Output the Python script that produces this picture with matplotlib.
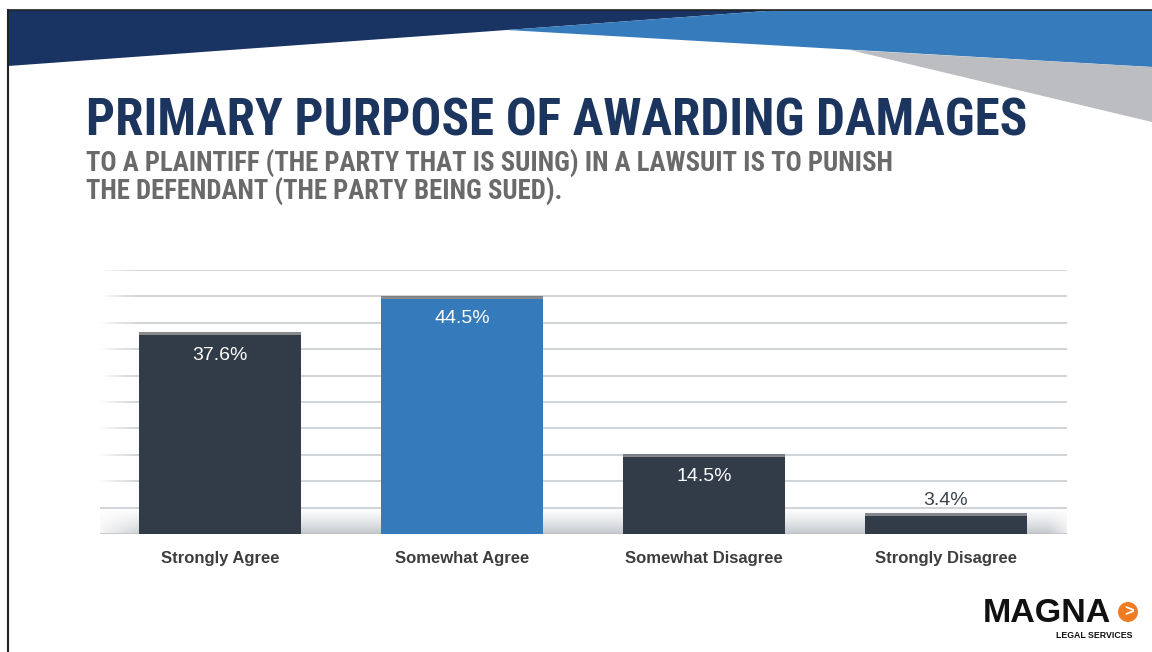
import numpy as np
import matplotlib
matplotlib.use("Agg")
import matplotlib.pyplot as plt
from matplotlib import font_manager
from matplotlib.patches import Polygon, Circle

categories = ["Strongly Agree", "Somewhat Agree", "Somewhat Disagree", "Strongly Disagree"]
values = [37.6, 44.5, 14.5, 3.4]
labels = ["37.6%", "44.5%", "14.5%", "3.4%"]
bar_colors = ["#323c48", "#357abb", "#323c48", "#323c48"]

title = "PRIMARY PURPOSE OF AWARDING DAMAGES"
subtitle = ["TO A PLAINTIFF (THE PARTY THAT IS SUING) IN A LAWSUIT IS TO PUNISH",
            "THE DEFENDANT (THE PARTY BEING SUED)."]

installed = {f.name for f in font_manager.fontManager.ttflist}


def pick(*names):
    for n in names:
        if n in installed:
            return n
    return "DejaVu Sans"


narrow = pick("Liberation Sans Narrow", "DejaVu Sans Condensed", "Roboto Condensed", "Liberation Sans")
sans = pick("Liberation Sans", "Arial", "DejaVu Sans")

W, H = 1152, 652
fig = plt.figure(figsize=(W / 100, H / 100), dpi=100)

# slide background in pixel coordinates
bg = fig.add_axes([0, 0, 1, 1])
bg.set_xlim(0, W)
bg.set_ylim(H, 0)
bg.axis("off")

bg.add_patch(Polygon([(8, 10), (780, 10), (507, 30), (8, 66)], closed=True,
                     facecolor="#193462", edgecolor="none"))
bg.add_patch(Polygon([(780, 10), (W, 10), (W, 67), (507, 30)], closed=True,
                     facecolor="#367cbc", edgecolor="none"))
bg.add_patch(Polygon([(850, 50), (W, 67), (W, 122)], closed=True,
                     facecolor="#bcbdc1", edgecolor="none"))
bg.plot([8, W], [10, 10], color="#222222", lw=1.2)
bg.plot([8, 8], [10, H], color="#222222", lw=1.5)

bg.text(86, 121, title, fontsize=36.8, fontweight="bold", family=narrow,
        color="#1b355f", va="center", ha="left")
bg.text(86, 164, subtitle[0], fontsize=19.3, fontweight="bold", family=narrow,
        color="#6a6a6a", va="center", ha="left")
bg.text(86, 192, subtitle[1], fontsize=19.3, fontweight="bold", family=narrow,
        color="#6a6a6a", va="center", ha="left")

# logo
bg.text(983, 614, "MAGNA", fontsize=24.5, fontweight="bold", family=sans,
        color="#111111", va="center", ha="left")
bg.add_patch(Circle((1128, 612), 10, facecolor="#ef7b22", edgecolor="none"))
bg.text(1129, 612, ">", fontsize=12, fontweight="bold", family=sans,
        color="white", va="center", ha="center")
bg.text(1132, 636, "LEGAL SERVICES", fontsize=6.3, fontweight="bold", family=sans,
        color="#111111", va="center", ha="right")

# chart area
px_left, px_right, px_top, px_bottom = 100, 1067, 270, 534
ax = fig.add_axes([px_left / W, 1 - px_bottom / H,
                   (px_right - px_left) / W, (px_bottom - px_top) / H])
ax.patch.set_alpha(0)
x = np.arange(len(categories))
step = 242.0
ax.set_xlim(-(220 - px_left) / step, 3 + (px_right - 946) / step)
ax.set_ylim(0, 50)
for s in ax.spines.values():
    s.set_visible(False)
ax.tick_params(length=0)
ax.set_yticks([])
ax.set_xticks(x)
ax.set_xticklabels(categories, fontsize=12, fontweight="bold", family=sans,
                   color="#3d3d3d")
ax.tick_params(axis="x", pad=12)

for g in np.arange(5, 51, 5):
    ax.axhline(g, color="#c5c9cd", lw=1.1, zorder=1)
ax.axhline(0, color="#c8cbcf", lw=1.2, zorder=1)

# shaded floor band with faded ends
x0, x1 = ax.get_xlim()
nx, ny = 400, 60
xs = np.linspace(0, 1, nx)
ys = np.linspace(0, 1, ny)[:, None]
fade_x = np.clip(np.minimum((xs - 0.0) / 0.06, (1 - xs) / 0.03), 0, 1)[None, :]
alpha = (1 - ys) ** 1.3 * fade_x
band = np.zeros((ny, nx, 4))
band[..., :3] = np.array([0.74, 0.76, 0.78])
band[..., 3] = alpha * 0.9
ax.imshow(band, extent=(x0 - 0.05, x1 + 0.05, 0, 5), origin="lower",
          aspect="auto", zorder=2, interpolation="bilinear")

# white fade over the left end of the grid lines
fade = np.zeros((2, 100, 4))
fade[..., :3] = 1
fade[..., 3] = np.linspace(1, 0, 100)[None, :] ** 1.5
ax.imshow(fade, extent=(x0, x0 + 0.18, 5.2, 50.5), origin="lower",
          aspect="auto", zorder=2.5, interpolation="bilinear")

width = 162 / step
ax.bar(x, [0.6] * len(values), bottom=values, width=width, color="#5f6469",
       alpha=0.75, zorder=3, linewidth=0)
ax.bar(x, values, width=width, color=bar_colors, zorder=4, linewidth=0)

for xi, v, lab in zip(x, values, labels):
    if v > 8:
        ax.text(xi, v - 3.7, lab, ha="center", va="center", fontsize=14,
                family=sans, color="white", zorder=5)
    else:
        ax.text(xi, v + 3.0, lab, ha="center", va="center", fontsize=14,
                family=sans, color="#3a424c", zorder=5)

ax.set_xlim(x0, x1)
fig.savefig("out.png", dpi=100)
